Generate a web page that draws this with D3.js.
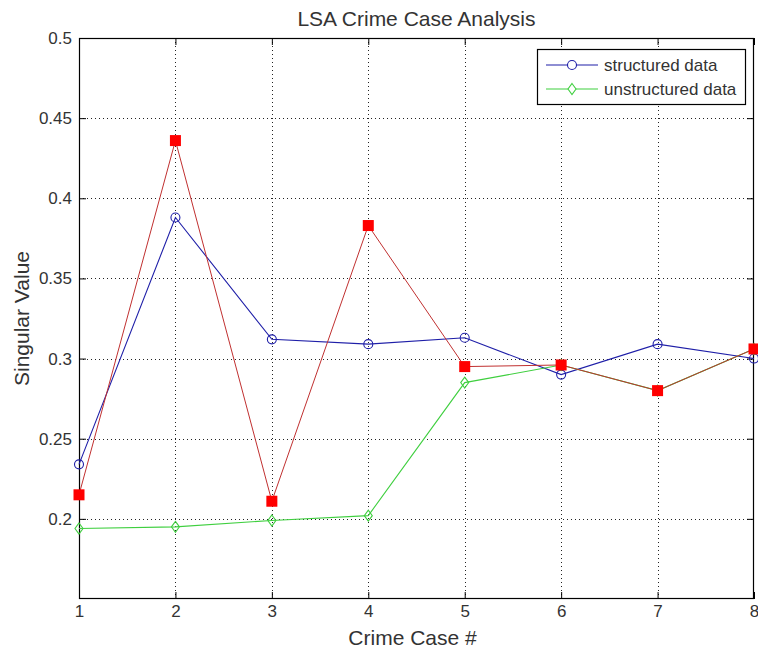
<!DOCTYPE html>
<html>
<head>
<meta charset="utf-8">
<script src="https://cdn.jsdelivr.net/npm/d3@7"></script>
<style>
  html, body { margin: 0; padding: 0; background: #fff; }
  svg { display: block; font-family: "Liberation Sans", Arial, sans-serif; }
</style>
</head>
<body>
<svg id="chart" width="758" height="650"></svg>
<script>
// Crime case numbers and singular values per method
const cases = [1, 2, 3, 4, 5, 6, 7, 8];
const structured = [0.234, 0.388, 0.312, 0.309, 0.313, 0.290, 0.309, 0.300];
const unstructured = [0.194, 0.195, 0.199, 0.202, 0.285, 0.296, 0.280, 0.306];
const combined = [0.215, 0.436, 0.211, 0.383, 0.295, 0.296, 0.280, 0.306];
const xTicks = [1, 2, 3, 4, 5, 6, 7, 8];
const yTicks = [0.2, 0.25, 0.3, 0.35, 0.4, 0.45, 0.5];
const yTickLabels = ["0.2", "0.25", "0.3", "0.35", "0.4", "0.45", "0.5"];

const svg = d3.select("#chart");
const box = { left: 79, right: 754, top: 38, bottom: 599 };
const textColor = "#333";

const x = d3.scaleLinear().domain([1, 8]).range([box.left, box.right]);
const y = d3.scaleLinear().domain([0.15, 0.5]).range([box.bottom, box.top]);

// Dotted grid
const grid = svg.append("g").attr("stroke", "#222").attr("stroke-width", 1)
  .attr("stroke-dasharray", "1,3").attr("fill", "none");
xTicks.slice(1, -1).forEach(t => {
  grid.append("line").attr("x1", Math.round(x(t)) + 0.5).attr("x2", Math.round(x(t)) + 0.5)
    .attr("y1", box.top).attr("y2", box.bottom);
});
yTicks.slice(0, -1).forEach(t => {
  grid.append("line").attr("y1", Math.round(y(t)) + 0.5).attr("y2", Math.round(y(t)) + 0.5)
    .attr("x1", box.left).attr("x2", box.right);
});

// Axes with inward ticks
const tickLen = 7;
const bottomAxis = d3.axisBottom(x).tickValues(xTicks).tickFormat(d3.format("d"))
  .tickSizeInner(-tickLen).tickSizeOuter(0).tickPadding(6);
const topAxis = d3.axisTop(x).tickValues(xTicks).tickFormat("")
  .tickSizeInner(-tickLen).tickSizeOuter(0);
const leftAxis = d3.axisLeft(y).tickValues(yTicks).tickFormat((d, i) => yTickLabels[i])
  .tickSizeInner(-tickLen).tickSizeOuter(0).tickPadding(7);
const rightAxis = d3.axisRight(y).tickValues(yTicks).tickFormat("")
  .tickSizeInner(-tickLen).tickSizeOuter(0);

function styleAxis(g) {
  g.select(".domain").remove();
  g.selectAll(".tick line").attr("stroke", "#000");
  g.selectAll(".tick text").attr("fill", textColor).style("font-size", "17px")
    .style("font-family", "'Liberation Sans', Arial, sans-serif");
}
svg.append("g").attr("transform", `translate(0,${box.bottom})`).call(bottomAxis).call(styleAxis);
svg.append("g").attr("transform", `translate(0,${box.top})`).call(topAxis).call(styleAxis);
svg.append("g").attr("transform", `translate(${box.left},0)`).call(leftAxis).call(styleAxis);
svg.append("g").attr("transform", `translate(${box.right},0)`).call(rightAxis).call(styleAxis);

// Axes box
svg.append("rect").attr("x", box.left + 0.5).attr("y", box.top + 0.5)
  .attr("width", box.right - box.left - 1).attr("height", box.bottom - box.top - 1)
  .attr("fill", "none").attr("stroke", "#000").attr("stroke-width", 1.2);

const line = d3.line().x((d, i) => x(cases[i])).y(d => y(d));

const blue = "#1f1fa8", green = "#3fcf3f", redLine = "#c03030", red = "#f00";
const diamond = (cx, cy, w, h) => `M${cx},${cy - h}L${cx + w},${cy}L${cx},${cy + h}L${cx - w},${cy}Z`;

// Structured data: blue line with open circles
svg.append("path").datum(structured).attr("d", line).attr("fill", "none")
  .attr("stroke", blue).attr("stroke-width", 1.1);
svg.append("g").selectAll("circle").data(structured).join("circle")
  .attr("cx", (d, i) => x(cases[i])).attr("cy", d => y(d)).attr("r", 4.5)
  .attr("fill", "none").attr("stroke", blue).attr("stroke-width", 1.1);

// Unstructured data: green line with open diamonds
svg.append("path").datum(unstructured).attr("d", line).attr("fill", "none")
  .attr("stroke", green).attr("stroke-width", 1.1);
svg.append("g").selectAll("path").data(unstructured).join("path")
  .attr("d", (d, i) => diamond(x(cases[i]), y(d), 4, 5.5))
  .attr("fill", "none").attr("stroke", green).attr("stroke-width", 1.1);

// Combined series: red line with filled squares
svg.append("path").datum(combined).attr("d", line).attr("fill", "none")
  .attr("stroke", redLine).attr("stroke-width", 1);
svg.append("g").selectAll("rect").data(combined).join("rect")
  .attr("x", (d, i) => x(cases[i]) - 5.5).attr("y", d => y(d) - 5.5)
  .attr("width", 11).attr("height", 11).attr("fill", red);

// Title and axis labels
svg.append("text").attr("x", (box.left + box.right) / 2).attr("y", 26)
  .attr("text-anchor", "middle").attr("fill", textColor).style("font-size", "21px")
  .text("LSA Crime Case Analysis");
svg.append("text").attr("x", (box.left + box.right) / 2 - 4).attr("y", 645)
  .attr("text-anchor", "middle").attr("fill", textColor).style("font-size", "21px")
  .text("Crime Case #");
svg.append("text").attr("transform", `translate(29,${(box.top + box.bottom) / 2}) rotate(-90)`)
  .attr("text-anchor", "middle").attr("fill", textColor).style("font-size", "21px")
  .text("Singular Value");

// Legend
const legend = svg.append("g");
legend.append("rect").attr("x", 537.5).attr("y", 49.5).attr("width", 208).attr("height", 55)
  .attr("fill", "#fff").attr("stroke", "#000").attr("stroke-width", 1.2);
const legendItems = [
  { label: "structured data", color: blue, marker: "circle", cy: 65 },
  { label: "unstructured data", color: green, marker: "diamond", cy: 89 }
];
legendItems.forEach(item => {
  legend.append("line").attr("x1", 546).attr("x2", 598).attr("y1", item.cy).attr("y2", item.cy)
    .attr("stroke", item.color).attr("stroke-width", 1.1);
  if (item.marker === "circle") {
    legend.append("circle").attr("cx", 572).attr("cy", item.cy).attr("r", 4.5)
      .attr("fill", "#fff").attr("stroke", item.color).attr("stroke-width", 1.1);
  } else {
    legend.append("path").attr("d", diamond(572, item.cy, 4, 5.5))
      .attr("fill", "#fff").attr("stroke", item.color).attr("stroke-width", 1.1);
  }
  legend.append("text").attr("x", 604).attr("y", item.cy + 6).attr("fill", textColor)
    .style("font-size", "17px").text(item.label);
});
</script>
</body>
</html>
